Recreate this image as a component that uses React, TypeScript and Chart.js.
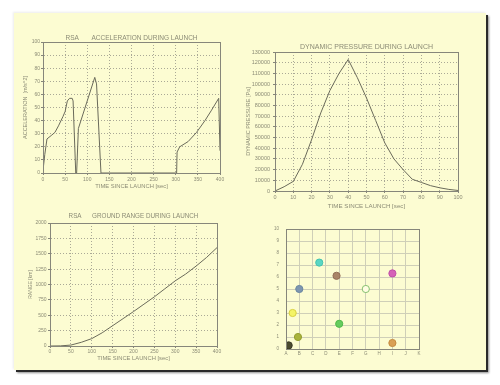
import React, { useEffect, useRef } from "react";
import { Chart, registerables } from "chart.js";

Chart.register(...registerables);

// ---- Acceleration during launch ----
const accelTime = [0, 4, 9, 20, 27, 35, 45, 50, 55, 60, 66, 68, 74, 76, 80, 117, 121, 131, 302, 303, 309, 328, 347, 366, 381, 397, 400];
const accelValue = [2, 14, 26, 29, 31, 36, 43, 47, 55, 57, 57, 55, 0, 0, 34, 73, 68, 0, 0, 16, 20, 24, 31, 40, 48, 57, 17];

// ---- Dynamic pressure during launch ----
const pressureTime = [0, 5, 10, 15, 20, 25, 30, 35, 40, 45, 50, 55, 60, 65, 70, 75, 80, 85, 90, 95, 100];
const pressureValue = [0, 4000, 9000, 25000, 48000, 73000, 94000, 110000, 123000, 106000, 87000, 66000, 45000, 30000, 20000, 11000, 8000, 5000, 3000, 1500, 500];

// ---- Ground range during launch ----
const rangeTime = [0, 25, 50, 75, 100, 125, 150, 175, 200, 225, 250, 275, 300, 325, 350, 375, 400];
const rangeValue = [0, 2, 15, 60, 120, 215, 330, 445, 560, 680, 800, 930, 1060, 1170, 1300, 1440, 1600];

// ---- Category scatter ----
const catLabels = ["A", "B", "C", "D", "E", "F", "G", "H", "I", "J", "K"];
const scatterX = [0.2, 0.9, 0.5, 1.0, 2.5, 3.8, 4.0, 6.0, 8.0, 8.0];
const scatterY = [0.3, 1.0, 3.0, 5.0, 7.2, 6.1, 2.1, 5.0, 6.3, 0.5];
const scatterFill = ["#4b4b30", "#a9b33c", "#f4f466", "#7e96b0", "#5ad6c4", "#a98468", "#66cc5e", "#fffde2", "#d562b8", "#d9a055"];
const scatterBorder = ["#3a3a26", "#949e30", "#d8d040", "#6a86a0", "#44c2ae", "#926e56", "#4fb848", "#86c070", "#c050a8", "#c48a40"];

const FAMILY = "'Liberation Sans', 'DejaVu Sans', sans-serif";
const TXT = "#8c8c76";
const LINE = "#6a6a5a";
const GRID = "#aaa996";
const FRAME = "#86867a";

function framePlugin(title: string, titleY: number, size: number) {
  return {
    id: "frameTitle",
    afterDraw(chart: any) {
      const { ctx, chartArea: a } = chart;
      ctx.save();
      ctx.strokeStyle = FRAME;
      ctx.lineWidth = 1;
      ctx.setLineDash([]);
      ctx.strokeRect(Math.round(a.left) + 0.5, Math.round(a.top) + 0.5, Math.round(a.right - a.left), Math.round(a.bottom - a.top));
      if (title) {
        ctx.fillStyle = TXT;
        ctx.font = `${size}px ${FAMILY}`;
        ctx.textAlign = "center";
        ctx.textBaseline = "middle";
        ctx.fillText(title, (a.left + a.right) / 2, titleY);
      }
      ctx.restore();
    },
  };
}

type AxisCfg = {
  min: number; max: number; step: number; size: number; tickSize: number;
  tl: number; pad: number; title?: string; titleSize?: number; titlePad?: number;
  dash?: number[]; gridColor?: string; cb?: (v: number) => string;
};

function axis(horizontal: boolean, c: AxisCfg) {
  return {
    type: "linear",
    position: horizontal ? "bottom" : "left",
    min: c.min,
    max: c.max,
    afterFit: (s: any) => {
      if (horizontal) { s.height = c.size; s.paddingLeft = 0; s.paddingRight = 0; }
      else { s.width = c.size; s.paddingTop = 0; s.paddingBottom = 0; }
    },
    ticks: {
      stepSize: c.step, autoSkip: false, maxRotation: 0, minRotation: 0,
      color: TXT, font: { family: FAMILY, size: c.tickSize }, padding: c.pad,
      callback: c.cb || ((v: number) => String(v)),
    },
    grid: {
      color: c.gridColor || GRID, lineWidth: 1, drawTicks: c.tl > 0, tickLength: c.tl,
      tickColor: FRAME, tickBorderDash: [],
    },
    border: { display: true, color: FRAME, width: 1, dash: c.dash ?? [1, 2] },
    title: c.title
      ? { display: true, text: c.title, color: TXT, font: { family: FAMILY, size: c.titleSize }, padding: { top: c.titlePad, bottom: c.titlePad } }
      : { display: false },
  };
}

function lineConfig(xs: number[], ys: number[], pad: any, xA: any, yA: any, plugin: any) {
  return {
    type: "line",
    data: {
      datasets: [{
        data: xs.map((x, i) => ({ x, y: ys[i] })),
        borderColor: LINE, borderWidth: 1, pointRadius: 0, tension: 0, fill: false,
      }],
    },
    options: {
      responsive: false, animation: false, devicePixelRatio: 1, events: [],
      layout: { padding: pad },
      plugins: { legend: { display: false }, tooltip: { enabled: false }, title: { display: false } },
      scales: { x: xA, y: yA },
    },
    plugins: [plugin],
  };
}

const makers: (() => any)[] = [
  () => lineConfig(accelTime, accelValue,
    { left: 18, top: 42, right: 280, bottom: 192 },
    axis(true, { min: 0, max: 400, step: 50, size: 20, tickSize: 5, tl: 2, pad: 2, title: "TIME SINCE LAUNCH [sec]", titleSize: 5.8, titlePad: 3 }),
    axis(false, { min: 0, max: 100, step: 10, size: 25, tickSize: 5, tl: 2, pad: 1, title: "ACCELERATION  [m/s^2]", titleSize: 5.5, titlePad: 4 }),
    framePlugin("RSA       ACCELERATION DURING LAUNCH", 38, 6.5)),
  () => lineConfig(pressureTime, pressureValue,
    { left: 245, top: 52, right: 42, bottom: 174 },
    axis(true, { min: 0, max: 100, step: 10, size: 20, tickSize: 5.5, tl: 2, pad: 0.7, title: "TIME SINCE LAUNCH [sec]", titleSize: 6.2, titlePad: 1.2 }),
    axis(false, { min: 0, max: 130000, step: 10000, size: 30, tickSize: 5.5, tl: 2, pad: 3, title: "DYNAMIC PRESSURE [Pa]", titleSize: 5.5, titlePad: 0 }),
    framePlugin("DYNAMIC PRESSURE DURING LAUNCH", 47.5, 7)),
  () => lineConfig(rangeTime, rangeValue,
    { left: 25, top: 223, right: 283, bottom: 21 },
    axis(true, { min: 0, max: 400, step: 50, size: 18, tickSize: 5, tl: 2, pad: 0.7, title: "TIME SINCE LAUNCH [sec]", titleSize: 5.8, titlePad: 2 }),
    axis(false, { min: 0, max: 2000, step: 250, size: 25, tickSize: 5, tl: 2, pad: 1.5, title: "RANGE [km]", titleSize: 5, titlePad: 2.7 }),
    framePlugin("RSA      GROUND RANGE DURING LAUNCH", 216, 6.3)),
  () => ({
    type: "scatter",
    data: {
      datasets: [{
        data: scatterX.map((x, i) => ({ x, y: scatterY[i] })),
        pointBackgroundColor: scatterFill,
        pointBorderColor: scatterBorder,
        pointBorderWidth: 1,
        pointRadius: 3.6,
      }],
    },
    options: {
      responsive: false, animation: false, devicePixelRatio: 1, events: [],
      layout: { padding: { left: 266, top: 229, right: 81, bottom: 21 } },
      plugins: { legend: { display: false }, tooltip: { enabled: false } },
      scales: {
        x: axis(true, { min: 0, max: 10, step: 1, size: 15, tickSize: 4.5, tl: 0, pad: 2.3, dash: [], gridColor: "#cfcfb8", cb: (v: number) => catLabels[v] ?? "" }),
        y: axis(false, { min: 0, max: 10, step: 1, size: 20, tickSize: 4.5, tl: 0, pad: 7, dash: [], gridColor: "#cfcfb8" }),
      },
    },
    plugins: [framePlugin("", 0, 6)],
  }),
];

function ChartCanvas({ make }: { make: () => any }) {
  const ref = useRef<HTMLCanvasElement>(null);
  useEffect(() => {
    const chart = new Chart(ref.current as HTMLCanvasElement, make());
    return () => chart.destroy();
  }, [make]);
  return (
    <canvas
      ref={ref}
      width={500}
      height={385}
      style={{ position: "absolute", left: 0, top: 0, width: 500, height: 385 }}
    />
  );
}

export default function App() {
  return (
    <div style={{ position: "fixed", left: 0, top: 0, width: 500, height: 385, background: "#ffffff", overflow: "hidden" }}>
      <div
        style={{
          position: "absolute", left: 14, top: 13, width: 472, height: 357,
          background: "#fcfcd2",
          boxShadow: "2px 2px 0 #2a2a2a, 3px 3px 2px rgba(0,0,0,0.45), -1px -1px 2px rgba(0,0,0,0.08)",
        }}
      />
      {makers.map((m, i) => (
        <ChartCanvas key={i} make={m} />
      ))}
    </div>
  );
}
